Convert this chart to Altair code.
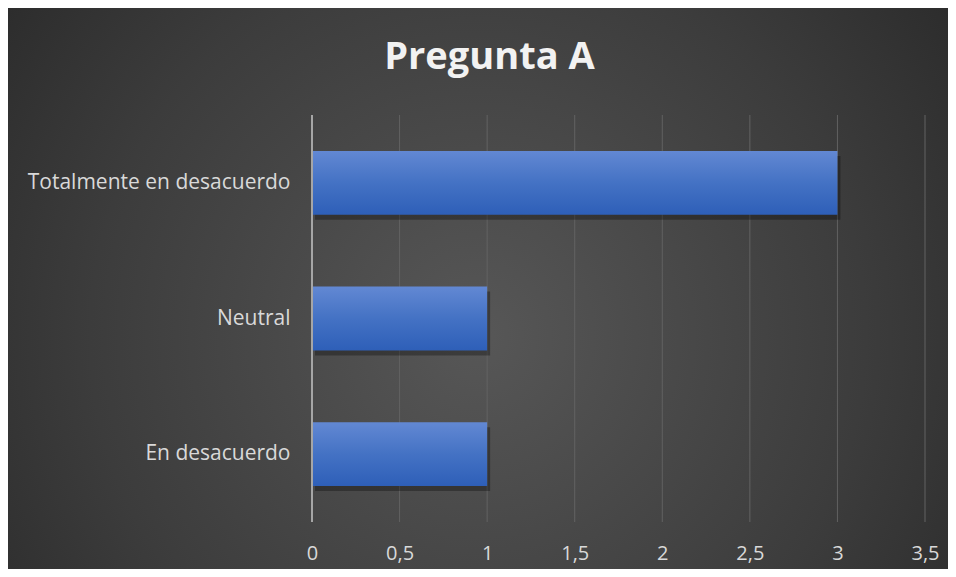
import altair as alt
import pandas as pd

categories = ["Totalmente en desacuerdo", "Neutral", "En desacuerdo"]
values = [3, 1, 1]
x_ticks = [0, 0.5, 1, 1.5, 2, 2.5, 3, 3.5]
title_text = "Pregunta A"

df = pd.DataFrame({"categoria": categories, "valor": values})
grid_df = pd.DataFrame({"valor": x_ticks[1:]})
title_df = pd.DataFrame({"t": [title_text]})

W, H = 613, 407
PAD = {"left": 304, "top": 107, "right": 23, "bottom": 47}

bg_gradient = alt.Gradient(
    gradient="radial",
    x1=0.5, y1=0.55, r1=0,
    x2=0.5, y2=0.55, r2=0.75,
    stops=[
        alt.GradientStop(color="#575757", offset=0),
        alt.GradientStop(color="#3c3c3c", offset=0.55),
        alt.GradientStop(color="#222222", offset=1),
    ],
)

bar_gradient = alt.Gradient(
    gradient="linear",
    x1=0, y1=0, x2=0, y2=1,
    stops=[
        alt.GradientStop(color="#6288d3", offset=0),
        alt.GradientStop(color="#4472c4", offset=0.5),
        alt.GradientStop(color="#2e5fb8", offset=1),
    ],
)

x_scale = alt.Scale(domain=[0, 3.5], nice=False)
x_axis = alt.Axis(
    title=None, values=x_ticks, ticks=False, domain=False,
    grid=False, zindex=1,
    labelFont="Open Sans", labelFontSize=20, labelColor="#d9d9d9",
    labelPadding=21, labelFlush=False,
    labelExpr="replace(toString(datum.value), '.', ',')",
)
x_enc = alt.X("valor:Q", scale=x_scale, axis=x_axis)

y_enc = alt.Y(
    "categoria:N",
    sort=categories,
    scale=alt.Scale(paddingInner=0.53, paddingOuter=0.265),
    axis=alt.Axis(
        title=None, ticks=False, domain=False, grid=False, zindex=1,
        labelFont="Open Sans", labelFontSize=21, labelColor="#d9d9d9",
        labelPadding=22, labelLimit=400,
    ),
)

background = alt.Chart(alt.Data(values=[{}])).mark_rect(
    fill=bg_gradient, stroke=None
).encode(
    x=alt.value(-PAD["left"]),
    x2=alt.value(W + PAD["right"]),
    y=alt.value(-PAD["top"]),
    y2=alt.value(H + PAD["bottom"]),
)

grid = alt.Chart(grid_df).mark_rule(color="#626262", strokeWidth=1).encode(
    x=x_enc
)

shadow = alt.Chart(df).mark_bar(
    color="#000000", opacity=0.3, xOffset=3, yOffset=5
).encode(x=x_enc, y=y_enc)

bars = alt.Chart(df).mark_bar(color=bar_gradient).encode(x=x_enc, y=y_enc)

zero_line = alt.Chart(alt.Data(values=[{}])).mark_rule(
    color="#a6a6a6", strokeWidth=2
).encode(x=alt.datum(0, scale=x_scale, axis=x_axis))

title = alt.Chart(title_df).mark_text(
    font="Open Sans", fontSize=38, fontWeight="bold", color="#f2f2f2",
    align="center", baseline="alphabetic",
).encode(
    text="t:N",
    x=alt.value(177.5),
    y=alt.value(-46),
)

chart = alt.layer(background, grid, shadow, bars, zero_line, title).properties(
    width=W,
    height=H,
    padding=PAD,
    autosize=alt.AutoSizeParams(type="none"),
    background="#ffffff",
).configure_view(stroke=None)

chart.save("out.html", embed_options={"renderer": "svg", "actions": False})
